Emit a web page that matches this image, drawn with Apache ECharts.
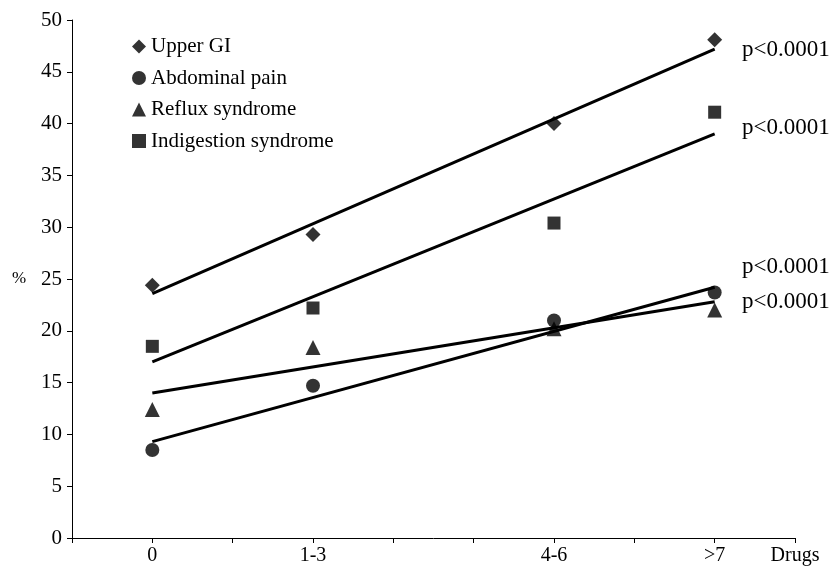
<!DOCTYPE html>
<html>
<head>
<meta charset="utf-8">
<script src="https://cdn.jsdelivr.net/npm/echarts@6/dist/echarts.min.js"></script>
<style>html,body{margin:0;padding:0;background:#fff}#c{width:834px;height:568px}</style>
</head>
<body>
<div id="c"></div>
<script>
// x positions of the categories on the drawn axis (0..9 scale)
const categories = ['0', '1-3', '4-6', '>7'];
const catPos = [1, 3, 6, 8];
const axisEndLabel = 'Drugs';

const seriesNames = ['Upper GI', 'Abdominal pain', 'Reflux syndrome', 'Indigestion syndrome'];
const upperGI = [24.4, 29.3, 40.0, 48.1];
const abdominalPain = [8.5, 14.7, 21.0, 23.7];
const refluxSyndrome = [12.4, 18.4, 20.2, 22.0];
const indigestionSyndrome = [18.5, 22.2, 30.4, 41.1];

// trend line values read at first and last category
const trendUpperGI = [23.6, 47.2];
const trendAbdominal = [9.3, 24.2];
const trendReflux = [14.0, 22.8];
const trendIndigestion = [17.0, 39.0];

const pValues = ['p<0.0001', 'p<0.0001', 'p<0.0001', 'p<0.0001'];
const yTicks = [0, 50, 5];

const font = '"Liberation Serif", "Times New Roman", serif';
const symbols = ['diamond', 'circle', 'triangle', 'rect'];
const symSizes = [15, 14, 15, 13];
const values = [upperGI, abdominalPain, refluxSyndrome, indigestionSyndrome];
const trends = [trendUpperGI, trendAbdominal, trendReflux, trendIndigestion];

const series = [];
trends.forEach((t, i) => {
  series.push({
    type: 'line', name: 'trend' + i, silent: true, symbol: 'none',
    data: [[catPos[0], t[0]], [catPos[catPos.length - 1], t[1]]],
    lineStyle: { color: '#000', width: 3 }, z: 2
  });
});
values.forEach((v, i) => {
  series.push({
    type: 'scatter', name: seriesNames[i], symbol: symbols[i], symbolSize: symSizes[i],
    data: v.map((y, j) => [catPos[j], y]),
    itemStyle: { color: '#000' }, z: 3
  });
});

const labelMap = {};
catPos.forEach((p, i) => labelMap[p] = categories[i]);
labelMap[9] = axisEndLabel;

const chart = echarts.init(document.getElementById('c'));
chart.setOption({
  animation: false,
  backgroundColor: '#fff',
  textStyle: { fontFamily: font },
  grid: { left: 72, right: 39, top: 20, bottom: 30 },
  legend: {
    data: seriesNames, orient: 'vertical', left: 132, top: 36, padding: 0,
    itemWidth: 14, itemHeight: 14, itemGap: 10.5,
    textStyle: { fontFamily: font, fontSize: 21, color: '#000' }
  },
  xAxis: {
    type: 'value', min: 0, max: 9, interval: 1,
    axisLine: { lineStyle: { color: '#000', width: 1 } },
    axisTick: { show: true, length: 5, lineStyle: { color: '#000' } },
    splitLine: { show: false },
    axisLabel: {
      color: '#000', fontFamily: font, fontSize: 20, margin: 8,
      showMinLabel: true, showMaxLabel: true,
      formatter: v => labelMap[v] || ''
    }
  },
  yAxis: {
    type: 'value', min: yTicks[0], max: yTicks[1], interval: yTicks[2],
    axisLine: { show: true, lineStyle: { color: '#000', width: 1 } },
    axisTick: { show: true, length: 5, lineStyle: { color: '#000' } },
    splitLine: { show: false },
    axisLabel: { color: '#000', fontFamily: font, fontSize: 21, margin: 10 }
  },
  graphic: [
    { type: 'text', left: 12, top: 270, style: { text: '%', font: '17px "Liberation Serif"', fill: '#000' } },
    { type: 'text', left: 742, top: 38, style: { text: pValues[0], font: '23px "Liberation Serif"', fill: '#000' } },
    { type: 'text', left: 742, top: 116, style: { text: pValues[1], font: '23px "Liberation Serif"', fill: '#000' } },
    { type: 'text', left: 742, top: 255, style: { text: pValues[2], font: '23px "Liberation Serif"', fill: '#000' } },
    { type: 'text', left: 742, top: 290, style: { text: pValues[3], font: '23px "Liberation Serif"', fill: '#000' } }
  ],
  series: series
});
</script>
</body>
</html>
